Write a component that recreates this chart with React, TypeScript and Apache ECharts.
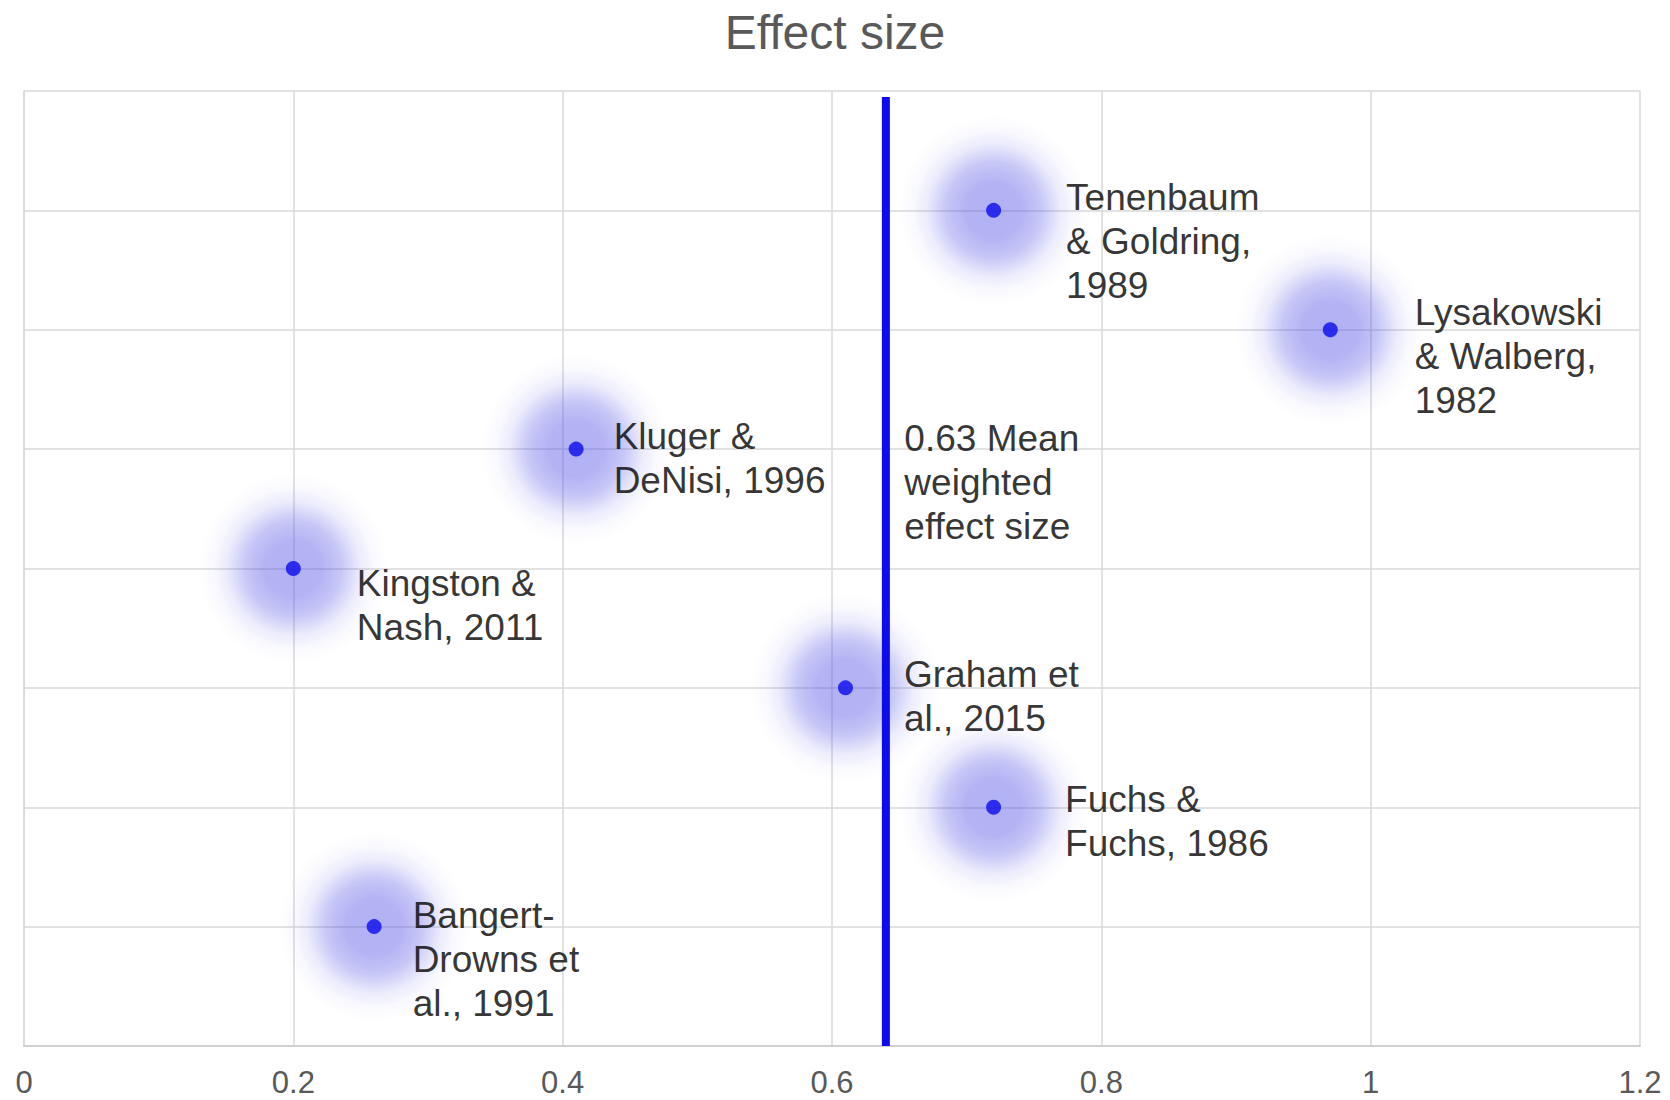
import React, { useEffect, useRef } from "react";
import * as echarts from "echarts";

// ---- data ----
const studies = [
  "Tenenbaum\n& Goldring,\n1989",
  "Lysakowski\n& Walberg,\n1982",
  "Kluger &\nDeNisi, 1996",
  "Kingston &\nNash, 2011",
  "Graham et\nal., 2015",
  "Fuchs &\nFuchs, 1986",
  "Bangert-\nDrowns et\nal., 1991",
];
const effectSizes = [0.72, 0.97, 0.41, 0.2, 0.61, 0.72, 0.26];
const rows = [7, 6, 5, 4, 3, 2, 1];
const meanEffect = 0.64;
const meanLineTop = 7.95;
const meanLabel = "0.63 Mean\nweighted\neffect size";
const meanLabelRow = 4;
const titleText = "Effect size";

// ---- label layout (pixel offsets from each dot) ----
const labelOffsets: [number, number][] = [
  [65, 31],
  [77, 27],
  [30, 9],
  [56, 37],
  [51, 9],
  [64, 14],
  [31, 33],
];
const meanLabelOffset: [number, number] = [18, -86];

const FONT = "Liberation Sans, Arial, Helvetica, sans-serif";
const BLUE = "#0b0bee";

export default function App() {
  const ref = useRef<HTMLDivElement>(null);
  useEffect(() => {
    const chart = echarts.init(ref.current!, null, { renderer: "svg" });
    const points = effectSizes.map((v, i) => [v, rows[i]]);
    chart.setOption({
      animation: false,
      backgroundColor: "#ffffff",
      textStyle: { fontFamily: FONT },
      title: {
        text: titleText,
        left: "center",
        top: 3,
        textStyle: { fontSize: 48, color: "#595959", fontWeight: "normal", fontFamily: FONT },
      },
      grid: { left: 24, right: 30, top: 91, bottom: 54, containLabel: false },
      xAxis: {
        type: "value",
        min: 0,
        max: 1.2,
        interval: 0.2,
        axisLine: { show: true, lineStyle: { color: "#d0d0d0", width: 2 } },
        axisTick: { show: false },
        axisLabel: { color: "#595959", fontSize: 31, margin: 21, fontFamily: FONT },
        splitLine: { show: true, lineStyle: { color: "#d9d9d9", width: 1.5 } },
      },
      yAxis: {
        type: "value",
        min: 0,
        max: 8,
        interval: 1,
        axisLine: { show: true, lineStyle: { color: "#d9d9d9", width: 1.5 } },
        axisTick: { show: false },
        axisLabel: { show: false },
        splitLine: { show: true, lineStyle: { color: "#d9d9d9", width: 1.5 } },
      },
      series: [
        {
          type: "scatter",
          silent: true,
          z: 1,
          symbolSize: 190,
          data: points,
          itemStyle: {
            color: {
              type: "radial",
              x: 0.5,
              y: 0.5,
              r: 0.5,
              colorStops: [
                { offset: 0, color: "rgba(78,78,230,0.56)" },
                { offset: 0.3, color: "rgba(78,78,230,0.53)" },
                { offset: 0.5, color: "rgba(78,78,230,0.4)" },
                { offset: 0.7, color: "rgba(78,78,230,0.14)" },
                { offset: 0.85, color: "rgba(78,78,230,0.04)" },
                { offset: 1, color: "rgba(78,78,230,0)" },
              ],
            },
          },
        },
        {
          type: "line",
          z: 3,
          symbol: "none",
          silent: true,
          data: [
            [meanEffect, 0],
            [meanEffect, meanLineTop],
          ],
          lineStyle: { color: BLUE, width: 8 },
        },
        {
          type: "scatter",
          z: 4,
          silent: true,
          symbolSize: 1,
          itemStyle: { color: "rgba(0,0,0,0)" },
          data: [[meanEffect, meanLabelRow]],
          label: {
            show: true,
            formatter: meanLabel,
            position: "right",
            distance: 0,
            offset: meanLabelOffset,
            align: "left",
            verticalAlign: "middle",
            fontSize: 37,
            lineHeight: 44,
            color: "#000000",
            fontFamily: FONT,
          },
        },
        {
          type: "scatter",
          z: 5,
          symbolSize: 15,
          itemStyle: { color: BLUE },
          data: points.map((p, i) => ({
            value: p,
            label: {
              show: true,
              formatter: studies[i],
              position: "right",
              distance: 0,
              offset: labelOffsets[i],
              align: "left",
              verticalAlign: "middle",
              fontSize: 37,
              lineHeight: 44,
              color: "#000000",
              fontFamily: FONT,
            },
          })),
        },
      ],
    });
    return () => chart.dispose();
  }, []);
  return (
    <div
      ref={ref}
      style={{ position: "absolute", left: 0, top: 0, width: 1670, height: 1100, background: "#fff" }}
    />
  );
}
